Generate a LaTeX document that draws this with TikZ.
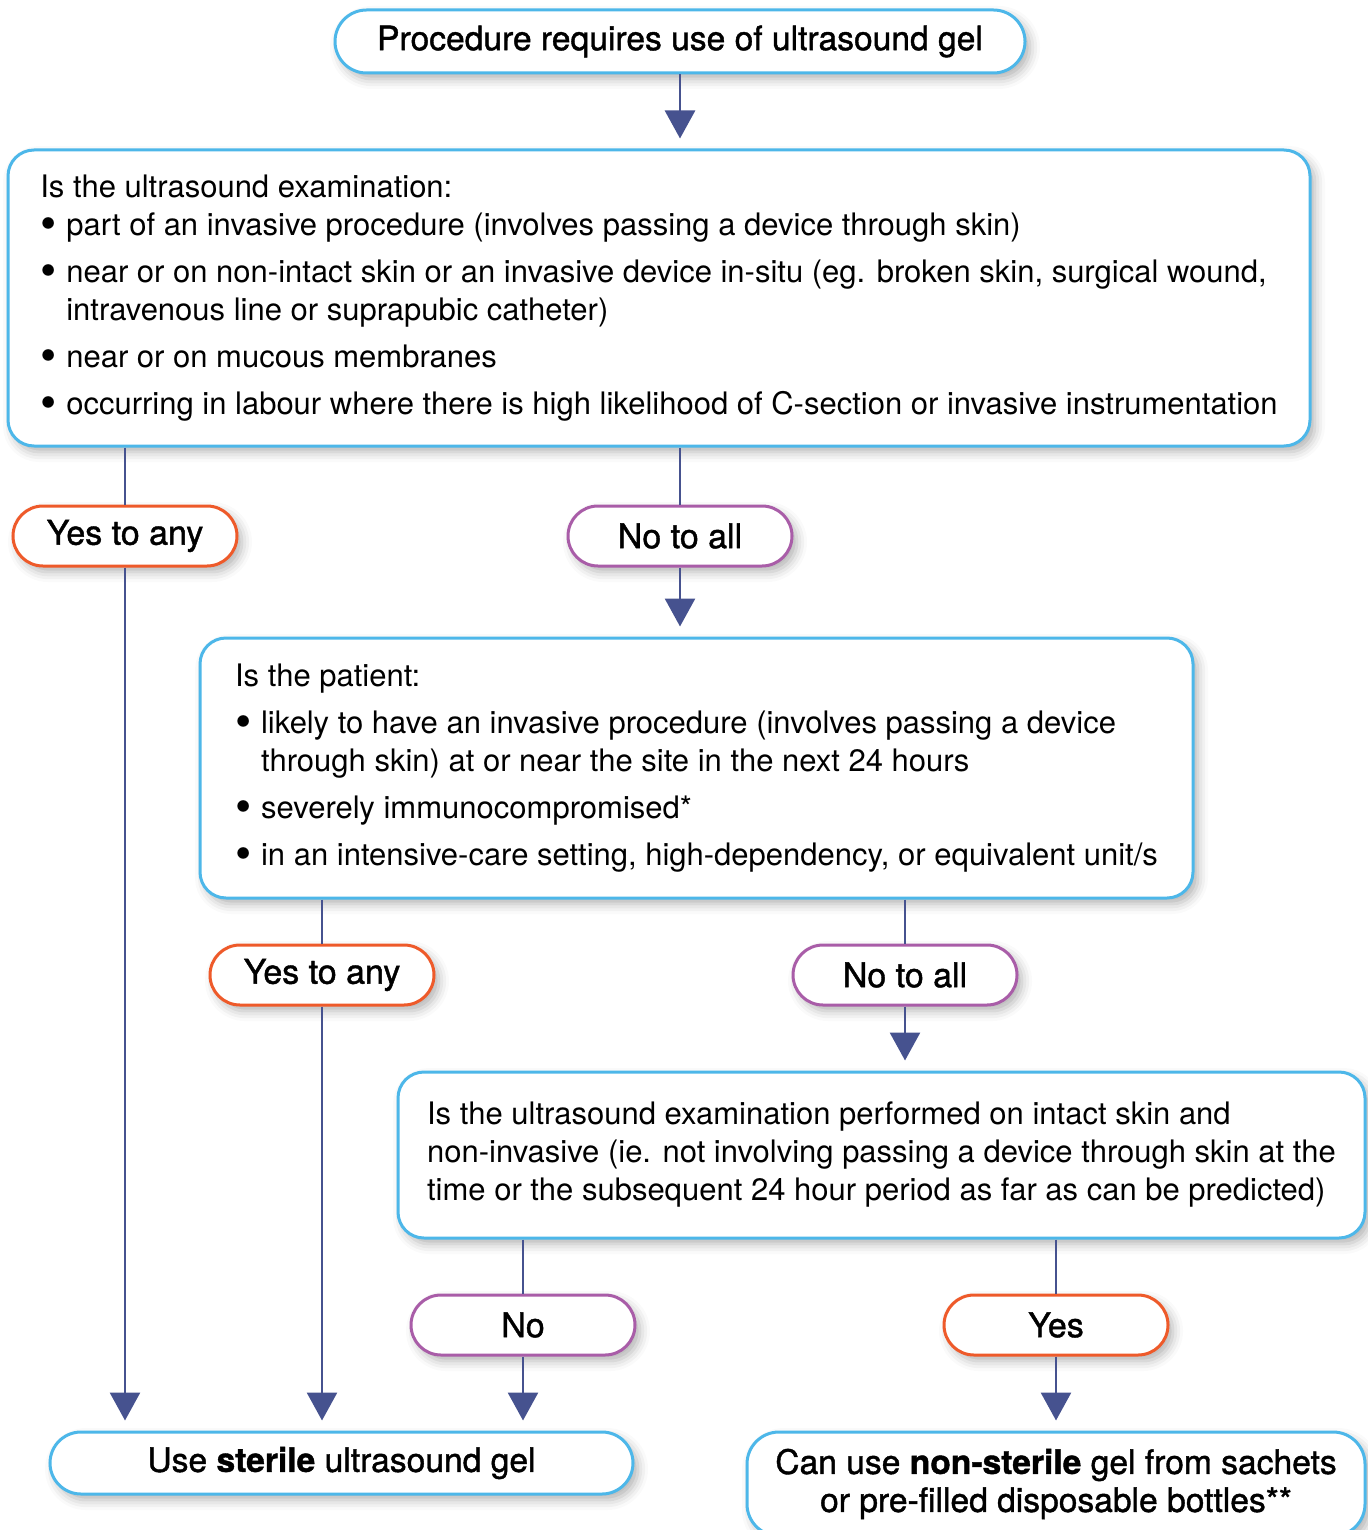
\documentclass[tikz,border=0pt]{standalone}
\usepackage{fontspec}
\setmainfont{TeX Gyre Heros}
\newfontfamily\medfont[FakeBold=1.2]{TeX Gyre Heros}
\usetikzlibrary{positioning,arrows.meta,calc,shadows.blur}
\definecolor{skyline}{HTML}{4DB7E9}
\definecolor{flame}  {HTML}{EE5A2A}
\definecolor{plum}   {HTML}{A95DA8}
\definecolor{indigo} {HTML}{46528F}
\newcommand{\bul}{\makebox[13pt][l]{\raisebox{-0.25ex}{\scalebox{1.5}{\textbullet}}}}
\newcommand{\hang}{\hspace*{13pt}}
\tikzset{
  % --- nodes
  box/.style    = {draw=skyline, line width=1.5pt, fill=white, rounded corners=13pt,
                   inner sep=0pt, font=\fontsize{15.5}{19}\selectfont,
                   blur shadow={shadow xshift=2.5pt, shadow yshift=-3pt,
                                shadow blur radius=5pt, shadow opacity=30}},
  qbox/.style   = {box, align=left},
  endbox/.style = {box, align=center, font=\fontsize{16.8}{19}\selectfont\medfont},
  pill/.style   = {box, rounded corners=15pt, minimum width=112pt, minimum height=30pt,
                   font=\fontsize{17}{19}\selectfont\medfont},
  yespill/.style= {pill, draw=flame},
  nopill/.style = {pill, draw=plum},
  % --- edges
  link/.style   = {draw=indigo, line width=1.4pt},
  go/.style     = {link, -{Triangle[width=15pt,length=14pt]}, shorten >=5pt},
}
\begin{document}
\begin{tikzpicture}[x=0.5pt,y=-0.5pt]
  \useasboundingbox (0,0) rectangle (1368,1530);
  % boxes
  \node[endbox, rounded corners=15.75pt, minimum width=345pt, minimum height=31.5pt]
    (start) at (680,41.5) {Procedure requires use of ultrasound gel};
  \node[qbox, minimum width=651pt, minimum height=148pt] (exam) at (659,298)
    {Is the ultrasound examination:\\
     \bul part of an invasive procedure (involves passing a device through skin)\\[4.5pt]
     \bul near or on non-intact skin or an invasive device in-situ (eg. broken skin, surgical wound,\\
     \hang intravenous line or suprapubic catheter)\\[4.5pt]
     \bul near or on mucous membranes\\[4.5pt]
     \bul occurring in labour where there is high likelihood of C-section or invasive instrumentation};
  \node[qbox, minimum width=496.5pt, minimum height=130pt] (patient) at (696.5,768)
    {Is the patient:\\[4.5pt]
     \bul likely to have an invasive procedure (involves passing a device\\
     \hang through skin) at or near the site in the next 24 hours\\[4.5pt]
     \bul severely immunocompromised*\\[4.5pt]
     \bul in an intensive-care setting, high-dependency, or equivalent unit/s};
  \node[qbox, minimum width=483.5pt, minimum height=83pt] (intact) at (881.5,1155)
    {Is the ultrasound examination performed on intact skin and\\
     non-invasive (ie. not involving passing a device through skin at the\\
     time or the subsequent 24 hour period as far as can be predicted)};
  \node[endbox, rounded corners=15.5pt, minimum width=291.5pt, minimum height=31pt]
    (sterile) at (341.5,1463) {Use {\bfseries sterile} ultrasound gel};
  \node[endbox, rounded corners=16pt, minimum width=309pt, minimum height=52pt]
    (nonsterile) at (1056,1484) {Can use {\bfseries non-sterile} gel from sachets\\
     or pre-filled disposable bottles**};
  % answers
  \node[yespill] (yesA) at (125,536) {Yes to any};
  \node[nopill]  (noA)  at (680,536) {No to all};
  \node[yespill] (yesB) at (322,975) {Yes to any};
  \node[nopill]  (noB)  at (905,975) {No to all};
  \node[nopill]  (noC)  at (523,1325) {No};
  \node[yespill] (yesC) at (1056,1325) {Yes};
  % connectors
  \draw[go] (start) -- (exam.north -| start);
  \draw[link] (exam.south -| yesA) -- (yesA);
  \draw[link] (exam.south -| noA) -- (noA);
  \draw[go] (yesA) -- (sterile.north -| yesA);
  \draw[go] (noA) -- (patient.north -| noA);
  \draw[link] (patient.south -| yesB) -- (yesB);
  \draw[link] (patient.south -| noB) -- (noB);
  \draw[go] (yesB) -- (sterile.north -| yesB);
  \draw[go] (noB) -- (intact.north -| noB);
  \draw[link] (intact.south -| noC) -- (noC);
  \draw[link] (intact.south -| yesC) -- (yesC);
  \draw[go] (noC) -- (sterile.north -| noC);
  \draw[go] (yesC) -- (nonsterile.north -| yesC);
\end{tikzpicture}
\end{document}
